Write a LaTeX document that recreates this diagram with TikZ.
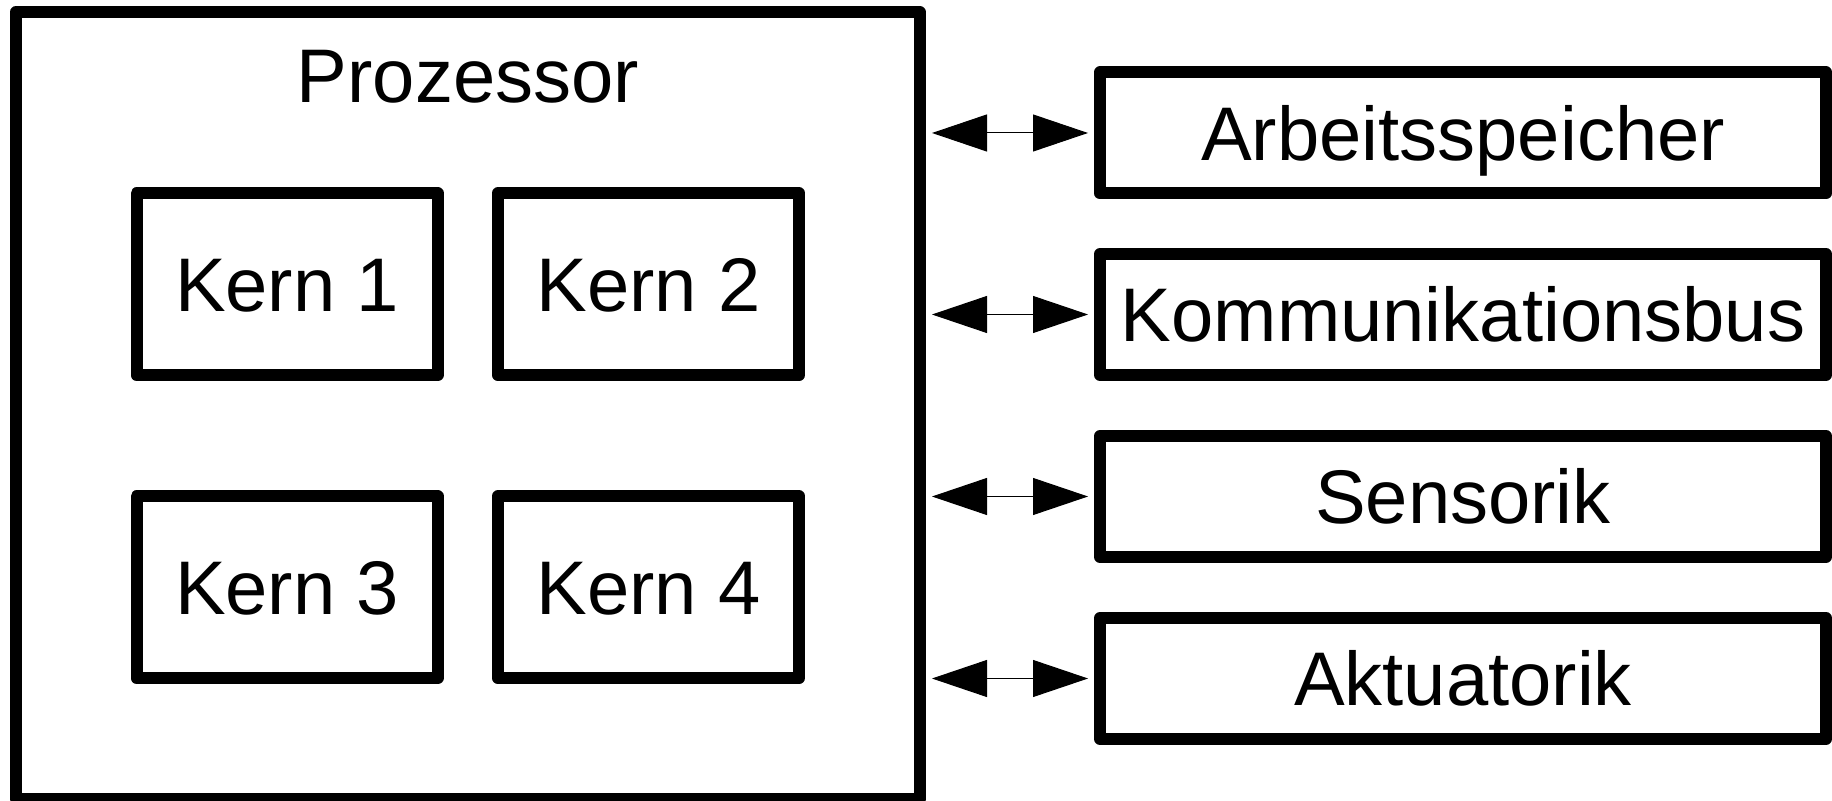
\documentclass[tikz,border=0pt]{standalone}
\usepackage{fontspec}
\setmainfont{Liberation Sans}
\usetikzlibrary{arrows.meta}

\begin{document}
\begin{tikzpicture}[
  x=0.5pt, y=-0.5pt,
  every node/.style={font=\fontsize{38}{42}\selectfont, inner sep=0pt, outer sep=0pt},
  frame/.style={draw, line width=6pt, line join=round, rectangle},
  corebox/.style={frame, minimum width=150.5pt, minimum height=91pt,
                  text height=27.2pt, text depth=0pt},
  periph/.style={frame, minimum width=363pt, minimum height=60.5pt,
                 text height=27.2pt, text depth=0pt},
  link/.style={line width=0.5pt,
               {Triangle[length=27.5pt,width=18.5pt]}-{Triangle[length=27.5pt,width=18.5pt]},
               shorten <=6.25pt, shorten >=6pt}
]
\useasboundingbox (0,0) rectangle (1832,801);

% processor with its four cores
\node[frame, minimum width=451.75pt, minimum height=393.5pt] (proz) at (467.75,405.5) {};
\node[anchor=base] (proztitle) at (468,103) {Prozessor};

\node[corebox] (k1) at (287,284.25) {Kern 1};
\node[corebox] (k2) at (648.5,284.25) {Kern 2};
\node[corebox] (k3) at (287,587.25) {Kern 3};
\node[corebox] (k4) at (648.5,587.25) {Kern 4};

% peripherals
\node[periph] (arb)  at (1463,133)   {Arbeitsspeicher};
\node[periph] (bus)  at (1463,314.5) {Kommunikationsbus};
\node[periph] (sens) at (1463,496.5) {Sensorik};
\node[periph] (akt)  at (1463,678.5) {Aktuatorik};

% bidirectional links
\foreach \p in {arb,bus,sens,akt}
  \draw[link] (proz.east |- \p.west) -- (\p.west);
\end{tikzpicture}
\end{document}
